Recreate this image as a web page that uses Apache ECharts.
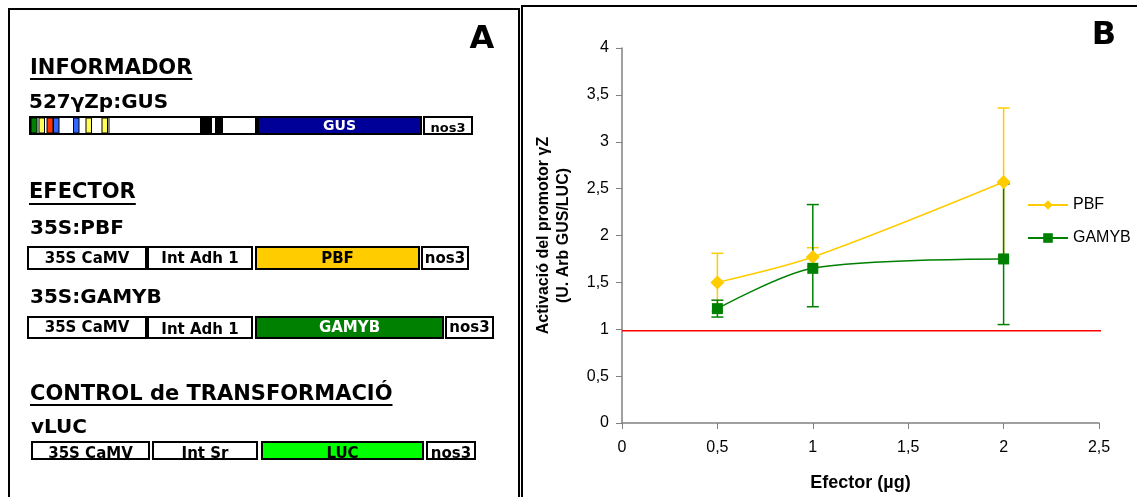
<!DOCTYPE html>
<html><head><meta charset="utf-8">
<script src="https://cdn.jsdelivr.net/npm/echarts@6/dist/echarts.min.js"></script>
<style>html,body{margin:0;padding:0;background:#fff}#c{width:1137px;height:497px}</style>
</head><body><div id="c"></div>
<script>
// ---- Panel B data ----
const effectorDose = [0.5, 1, 2];
const pbfMean  = [1.50, 1.77, 2.57];
const pbfLow   = [1.19, 1.67, 1.77];
const pbfHigh  = [1.81, 1.87, 3.36];
const gamybMean = [1.22, 1.65, 1.75];
const gamybLow  = [1.13, 1.24, 1.05];
const gamybHigh = [1.31, 2.33, 2.55];
const referenceLevel = 0.985;
const referenceSpan = [0, 2.54];
const seriesNames = ['PBF', 'GAMYB'];
const xAxisTitle = 'Efector (µg)';
const yAxisTitle = ['Activació del promotor γZ', '(U. Arb GUS/LUC)'];

// ---- Panel A texts ----
const headings = ['INFORMADOR', 'EFECTOR', 'CONTROL de TRANSFORMACIÓ'];
const constructNames = ['527γZp:GUS', '35S:PBF', '35S:GAMYB', 'vLUC'];
const rowPBF = ['35S CaMV', 'Int Adh 1', 'PBF', 'nos3'];
const rowGAMYB = ['35S CaMV', 'Int Adh 1', 'GAMYB', 'nos3'];
const rowLUC = ['35S CaMV', 'Int Sr', 'LUC', 'nos3'];
const rowGUS = ['', 'GUS', 'nos3'];

const fmt = v => String(v).replace('.', ',');
const comic = '"DejaVu Sans"';
const arial = '"Liberation Sans", Arial, sans-serif';

function textW(txt, font) {
  const c = document.createElement('canvas').getContext('2d');
  c.font = font; return c.measureText(txt).width;
}

const G = [];
function box(x1, x2, y1, y2, fill, label, color, fs, dy) {
  G.push({type:'rect', shape:{x:x1, y:y1, width:x2-x1, height:y2-y1},
    style:{fill:fill, stroke:'#000', lineWidth:2}, z:10});
  if (label) G.push({type:'text', x:(x1+x2)/2, y:(y1+y2)/2 + (dy||0) + 1,
    style:{text:label, fill:color||'#000', font:'bold ' + (fs||13) + 'px ' + comic,
      textAlign:'center', textVerticalAlign:'middle'}, z:12});
}
function heading(txt, x, y, uy) {
  const font = 'bold 21px ' + comic;
  G.push({type:'text', x:x, y:y, style:{text:txt, fill:'#000', font:font,
    textAlign:'left', textVerticalAlign:'middle'}, z:12});
  const w = textW(txt, font);
  G.push({type:'line', shape:{x1:x, y1:uy, x2:x+w, y2:uy}, style:{stroke:'#000', lineWidth:2}, z:12});
}
function sub(txt, x, y) {
  G.push({type:'text', x:x, y:y, style:{text:txt, fill:'#000', font:'bold 20px ' + comic,
    textAlign:'left', textVerticalAlign:'middle'}, z:12});
}

// panel frames
G.push({type:'rect', shape:{x:9, y:9, width:510, height:510}, style:{fill:'none', stroke:'#000', lineWidth:2}, z:5});
G.push({type:'rect', shape:{x:522, y:6, width:630, height:510}, style:{fill:'none', stroke:'#000', lineWidth:2}, z:5});
G.push({type:'text', x:482, y:40, style:{text:'A', font:'bold 32px ' + comic, fill:'#000', textAlign:'center', textVerticalAlign:'middle'}, z:12});
G.push({type:'text', x:1104, y:36, style:{text:'B', font:'bold 32px ' + comic, fill:'#000', textAlign:'center', textVerticalAlign:'middle'}, z:12});

heading(headings[0], 30, 69, 79);
sub(constructNames[0], 29, 103);
// reporter row
box(30, 256, 117, 134, '#fff');
const stripes = [[31,37,'#008000'],[39,44.5,'#FFFF55'],[47,53,'#FF3300'],[53.5,59,'#3366FF'],[73.5,79,'#3366FF'],[86,91.5,'#FFFF55'],[102,107.5,'#FFFF55']];
stripes.forEach(s => G.push({type:'rect', shape:{x:s[0], y:118, width:s[1]-s[0], height:15}, style:{fill:s[2], stroke:'#000', lineWidth:1}, z:11}));
G.push({type:'line', shape:{x1:109, y1:118, x2:109, y2:133}, style:{stroke:'#000', lineWidth:1}, z:11});
G.push({type:'rect', shape:{x:200, y:118, width:12, height:15}, style:{fill:'#000'}, z:11});
G.push({type:'rect', shape:{x:215, y:118, width:8, height:15}, style:{fill:'#000'}, z:11});
box(258, 421, 117, 134, '#000099', rowGUS[1], '#fff', 14);
box(424, 472, 117, 134, '#fff', rowGUS[2], '#000', 13, 2);

heading(headings[1], 29, 193, 204);
sub(constructNames[1], 30, 229);
box(28, 146, 247, 269, '#fff', rowPBF[0], '#000', 15);
box(148, 252, 247, 269, '#fff', rowPBF[1], '#000', 15);
box(256, 419, 247, 269, '#FFCC00', rowPBF[2], '#000', 15);
box(422, 468, 247, 269, '#fff', rowPBF[3], '#000', 15);

sub(constructNames[2], 30, 298);
box(28, 146, 317, 338, '#fff', rowGAMYB[0], '#000', 15);
box(148, 252, 317, 338, '#fff', rowGAMYB[1], '#000', 15, 2);
box(256, 443, 317, 338, '#008000', rowGAMYB[2], '#fff', 15);
box(446, 493, 317, 338, '#fff', rowGAMYB[3], '#000', 15);

heading(headings[2], 30, 395, 405);
sub(constructNames[3], 31, 428);
box(32, 149, 442, 459, '#fff', rowLUC[0], '#000', 15, 3);
box(153, 257, 442, 459, '#fff', rowLUC[1], '#000', 15, 3);
box(262, 423, 442, 459, '#00FF00', rowLUC[2], '#000', 15, 3);
box(427, 475, 442, 459, '#fff', rowLUC[3], '#000', 15, 3);

function errRender(color) {
  return function (params, api) {
    const x = api.value(0), lo = api.value(1), hi = api.value(2);
    const p1 = api.coord([x, lo]), p2 = api.coord([x, hi]);
    const w = 6, st = {stroke: color, lineWidth: 1.5};
    return {type:'group', children:[
      {type:'line', shape:{x1:p1[0], y1:p1[1], x2:p2[0], y2:p2[1]}, style:st},
      {type:'line', shape:{x1:p1[0]-w, y1:p1[1], x2:p1[0]+w, y2:p1[1]}, style:st},
      {type:'line', shape:{x1:p2[0]-w, y1:p2[1], x2:p2[0]+w, y2:p2[1]}, style:st}
    ]};
  };
}

const PBF_C = '#FFCC00', GAM_C = '#008000';
const chart = echarts.init(document.getElementById('c'), null, {renderer:'canvas'});
const axisFont = {fontFamily:arial, fontSize:16, color:'#000'};
chart.setOption({
  animation:false,
  backgroundColor:'#fff',
  grid:{left:622, right:38, top:48, bottom:74},
  xAxis:{type:'value', min:0, max:2.5, interval:0.5,
    axisLine:{show:true, lineStyle:{color:'#808080', width:1.5}},
    axisTick:{show:true, length:6, lineStyle:{color:'#808080'}},
    splitLine:{show:false},
    axisLabel:Object.assign({margin:17, formatter:fmt}, axisFont),
    name:xAxisTitle, nameLocation:'middle', nameGap:51,
    nameTextStyle:{fontFamily:arial, fontSize:18, fontWeight:'bold', color:'#000'}
  },
  yAxis:{type:'value', min:0, max:4, interval:0.5,
    axisLine:{show:true, lineStyle:{color:'#808080', width:1.5}},
    axisTick:{show:true, length:6, lineStyle:{color:'#808080'}},
    splitLine:{show:false},
    axisLabel:Object.assign({margin:13, formatter:fmt}, axisFont),
    name:yAxisTitle.join('\n'), nameLocation:'middle', nameGap:48,
    nameTextStyle:{fontFamily:arial, fontSize:16, fontWeight:'bold', color:'#000', lineHeight:20}
  },
  legend:{orient:'vertical', left:1022, top:192, itemWidth:40, itemHeight:12, itemGap:17,
    data:seriesNames, textStyle:{fontFamily:arial, fontSize:16, color:'#000'}},
  graphic:G,
  series:[
    {type:'line', name:'ref', data:referenceSpan.map(x => [x, referenceLevel]), showSymbol:false, symbol:'none',
      lineStyle:{color:'#FF0000', width:1.5}, clip:false, silent:true, z:1},
    {type:'custom', name:'PBF err', renderItem:errRender(PBF_C), clip:false, z:2,
      encode:{x:0, y:[1,2]}, data:effectorDose.map((x,i) => [x, pbfLow[i], pbfHigh[i]])},
    {type:'custom', name:'GAMYB err', renderItem:errRender(GAM_C), clip:false, z:2,
      encode:{x:0, y:[1,2]}, data:effectorDose.map((x,i) => [x, gamybLow[i], gamybHigh[i]])},
    {type:'line', name:seriesNames[0], data:effectorDose.map((x,i) => [x, pbfMean[i]]), smooth:0.3,
      symbol:'diamond', symbolSize:14, itemStyle:{color:PBF_C}, lineStyle:{color:PBF_C, width:1.5}, z:3},
    {type:'line', name:seriesNames[1], data:effectorDose.map((x,i) => [x, gamybMean[i]]), smooth:0.3,
      symbol:'rect', symbolSize:11, itemStyle:{color:GAM_C}, lineStyle:{color:GAM_C, width:1.5}, z:4}
  ]
});
</script></body></html>
